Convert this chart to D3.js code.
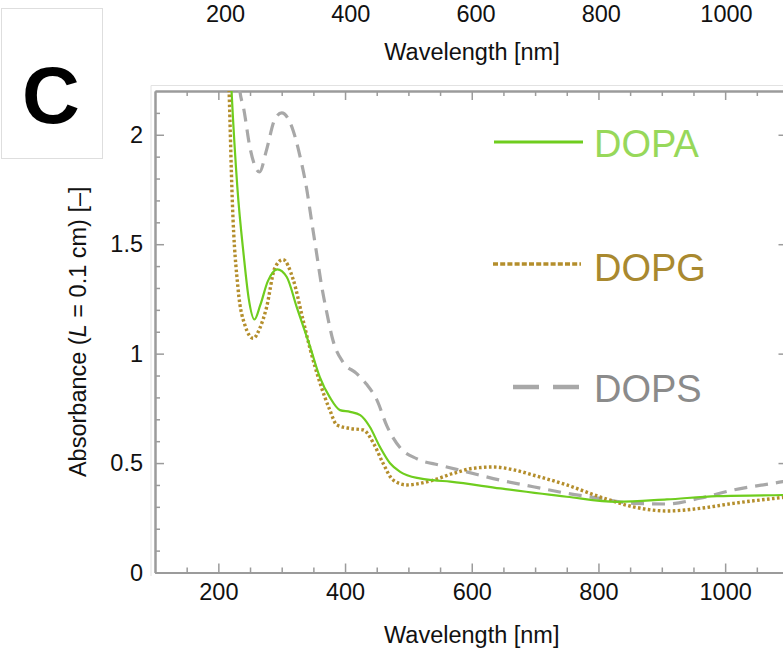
<!DOCTYPE html>
<html>
<head>
<meta charset="utf-8">
<script src="https://cdn.jsdelivr.net/npm/d3@7"></script>
<style>
  body { margin: 0; background: #fff; }
  svg { display: block; font-family: "Liberation Sans", Arial, Helvetica, sans-serif; }
</style>
</head>
<body>
<svg id="chart"></svg>
<script>
// Total dimensions
var w = 783,
    h = 652;

// data
var seriesNames = ["DOPA", "DOPG", "DOPS"];

var dopaWl  = [212, 220, 230, 240, 248, 257, 266, 278, 293, 308, 324, 345, 360, 376, 392, 408, 424, 439, 455, 471, 487, 518, 539, 566, 645, 750, 829, 908, 987, 1091, 1100];
var dopaAbs = [2.8, 2.25, 1.76, 1.45, 1.25, 1.156, 1.22, 1.33, 1.385, 1.35, 1.21, 1.03, 0.894, 0.80, 0.742, 0.734, 0.719, 0.666, 0.574, 0.499, 0.46, 0.43, 0.422, 0.415, 0.384, 0.346, 0.323, 0.334, 0.349, 0.354, 0.355];

var dopgWl  = [210, 217, 222, 231, 242, 255, 266, 276, 289, 302, 318, 334, 345, 360, 376, 387, 408, 429, 445, 460, 476, 497, 518, 539, 571, 602, 634, 665, 697, 750, 802, 855, 908, 960, 1013, 1091, 1100];
var dopgAbs = [2.8, 2.2, 1.7, 1.3, 1.13, 1.07, 1.12, 1.21, 1.39, 1.43, 1.34, 1.15, 1.02, 0.87, 0.742, 0.674, 0.658, 0.651, 0.59, 0.499, 0.422, 0.40, 0.407, 0.422, 0.453, 0.476, 0.482, 0.47, 0.445, 0.40, 0.346, 0.30, 0.281, 0.293, 0.316, 0.343, 0.346];

var dopsWl  = [226, 234, 240, 250, 265, 276, 289, 300, 318, 329, 339, 347, 355, 363, 371, 381, 397, 418, 434, 450, 466, 487, 513, 550, 592, 645, 697, 750, 802, 855, 908, 960, 1013, 1091, 1100];
var dopsAbs = [2.5, 2.2, 2.12, 1.94, 1.83, 1.93, 2.07, 2.1, 2.02, 1.90, 1.76, 1.61, 1.46, 1.31, 1.19, 1.06, 0.96, 0.91, 0.86, 0.79, 0.67, 0.57, 0.52, 0.49, 0.46, 0.422, 0.392, 0.362, 0.339, 0.316, 0.313, 0.339, 0.377, 0.415, 0.42];

var xTicks = [200, 400, 600, 800, 1000];
var yTicks = [0, 0.5, 1, 1.5, 2];
var xMinor = d3.range(150, 1100, 50).filter(function(v) { return xTicks.indexOf(v) < 0; });
var yMinor = d3.range(1, 22).map(function(i) { return i / 10; }).filter(function(v) { return v % 0.5 !== 0; });

var colors = { DOPA: "#6fcd1e", DOPG: "#b48e2c", DOPS: "#a8a8a8" };
var textColors = { DOPA: "#97d85a", DOPG: "#a9892f", DOPS: "#8b8b8b" };

var fs = 23.5;

var svg = d3.select("#chart")
    .attr("width", w)
    .attr("height", h);

// plot box
var margin = { top: 91, left: 155 },
    plotW = 633.5,
    plotH = 481.5;

var x = d3.scaleLinear().domain([100, 1100]).range([0, plotW]);
var y = d3.scaleLinear().domain([0, 2.2]).range([plotH, 0]);

// fragment of the panel above (its x axis labels)
var xTop = d3.scaleLinear().domain([200, 1000]).range([225, 726]);
svg.append("g")
    .call(d3.axisBottom(xTop).tickValues(xTicks).tickSize(0).tickPadding(5).tickFormat(d3.format("d")))
    .call(function(g) { g.select(".domain").remove(); })
    .selectAll("text")
    .attr("font-size", fs)
    .attr("font-family", "Liberation Sans, Arial, sans-serif")
    .attr("fill", "#111");
svg.append("text")
    .attr("x", 472).attr("y", 60)
    .attr("text-anchor", "middle")
    .attr("font-size", fs)
    .attr("fill", "#111")
    .text("Wavelength [nm]");

// panel letter
svg.append("rect")
    .attr("x", 1.5).attr("y", 8.5)
    .attr("width", 101).attr("height", 150)
    .attr("fill", "#fff")
    .attr("stroke", "#dedede");
svg.append("text")
    .attr("x", 51).attr("y", 123)
    .attr("text-anchor", "middle")
    .attr("font-size", 80)
    .attr("font-weight", "bold")
    .attr("fill", "#000")
    .text("C");

// light outer border of the plot picture
svg.append("path")
    .attr("d", "M151,576V85.5H790")
    .attr("fill", "none")
    .attr("stroke", "#e2e2e2")
    .attr("stroke-width", 1);

var g = svg.append("g").attr("transform", "translate(" + margin.left + "," + margin.top + ")");

g.append("clipPath").attr("id", "clip")
  .append("rect").attr("width", plotW).attr("height", plotH);

var axisColor = "#9b9b9b";
function styleAxis(sel) {
    sel.select(".domain").attr("stroke", axisColor).attr("stroke-width", 2);
    sel.selectAll(".tick line").attr("stroke", axisColor).attr("stroke-width", 1.5);
    sel.selectAll("text")
        .attr("font-size", fs)
        .attr("font-family", "Liberation Sans, Arial, sans-serif")
        .attr("fill", "#111");
}

// bottom
g.append("g").attr("transform", "translate(0," + plotH + ")")
    .call(d3.axisBottom(x).tickValues(xMinor).tickSizeInner(-5).tickSizeOuter(0).tickFormat(""))
    .call(styleAxis);
g.append("g").attr("transform", "translate(0," + plotH + ")")
    .call(d3.axisBottom(x).tickValues(xTicks).tickSizeInner(-9).tickSizeOuter(0).tickPadding(11).tickFormat(d3.format("d")))
    .call(styleAxis);
// top
g.append("g")
    .call(d3.axisTop(x).tickValues(xMinor).tickSizeInner(-5).tickSizeOuter(0).tickFormat(""))
    .call(styleAxis);
g.append("g")
    .call(d3.axisTop(x).tickValues(xTicks).tickSizeInner(-9).tickSizeOuter(0).tickFormat(""))
    .call(styleAxis);
// left
g.append("g")
    .call(d3.axisLeft(y).tickValues(yMinor).tickSizeInner(-5).tickSizeOuter(0).tickFormat(""))
    .call(styleAxis);
g.append("g")
    .call(d3.axisLeft(y).tickValues(yTicks).tickSizeInner(-9).tickSizeOuter(0).tickPadding(12).tickFormat(d3.format("")))
    .call(styleAxis);
// right
g.append("g").attr("transform", "translate(" + plotW + ",0)")
    .call(d3.axisRight(y).tickValues(yMinor).tickSizeInner(-5).tickSizeOuter(0).tickFormat(""))
    .call(styleAxis);
g.append("g").attr("transform", "translate(" + plotW + ",0)")
    .call(d3.axisRight(y).tickValues(yTicks).tickSizeInner(-10).tickSizeOuter(0).tickFormat(""))
    .call(styleAxis);

// axis titles
g.append("text")
    .attr("x", x(600)).attr("y", plotH + 70)
    .attr("text-anchor", "middle")
    .attr("font-size", fs)
    .attr("fill", "#111")
    .text("Wavelength [nm]");

var yt = g.append("text")
    .attr("transform", "translate(-69," + (plotH / 2) + ") rotate(-90)")
    .attr("text-anchor", "middle")
    .attr("font-size", fs)
    .attr("fill", "#111");
yt.append("tspan").text("Absorbance (");
yt.append("tspan").attr("font-style", "italic").text("L");
yt.append("tspan").text(" = 0.1 cm) [\u2013]");

// curves
var line = d3.line()
    .x(function(d) { return x(d[0]); })
    .y(function(d) { return y(d[1]); })
    .curve(d3.curveMonotoneX);

var series = [
    { name: "DOPA", wl: dopaWl, abs: dopaAbs, dash: null, width: 2.2 },
    { name: "DOPG", wl: dopgWl, abs: dopgAbs, dash: "2.6,2.4", width: 3.4 },
    { name: "DOPS", wl: dopsWl, abs: dopsAbs, dash: "13,8", width: 3.2 }
];

var curves = g.append("g").attr("clip-path", "url(#clip)");
series.slice().reverse().forEach(function(s) {
    curves.append("path")
        .datum(d3.zip(s.wl, s.abs))
        .attr("fill", "none")
        .attr("stroke", colors[s.name])
        .attr("stroke-width", s.width)
        .attr("stroke-dasharray", s.dash)
        .attr("d", line);
});

// legend
var legend = [
    { name: seriesNames[0], x1: 494, x2: 583, ly: 142, ty: 157, dash: null, width: 3.2 },
    { name: seriesNames[1], x1: 493, x2: 581, ly: 264, ty: 281, dash: "5,2.2", width: 3.4 },
    { name: seriesNames[2], x1: 513, x2: 579, ly: 387, ty: 402, dash: "26,14", width: 4.5 }
];
legend.forEach(function(l) {
    svg.append("line")
        .attr("x1", l.x1).attr("x2", l.x2)
        .attr("y1", l.ly).attr("y2", l.ly)
        .attr("stroke", colors[l.name])
        .attr("stroke-width", l.width)
        .attr("stroke-dasharray", l.dash);
    svg.append("text")
        .attr("x", 594).attr("y", l.ty)
        .attr("font-size", 38)
        .attr("fill", textColors[l.name])
        .text(l.name);
});
</script>
</body>
</html>
